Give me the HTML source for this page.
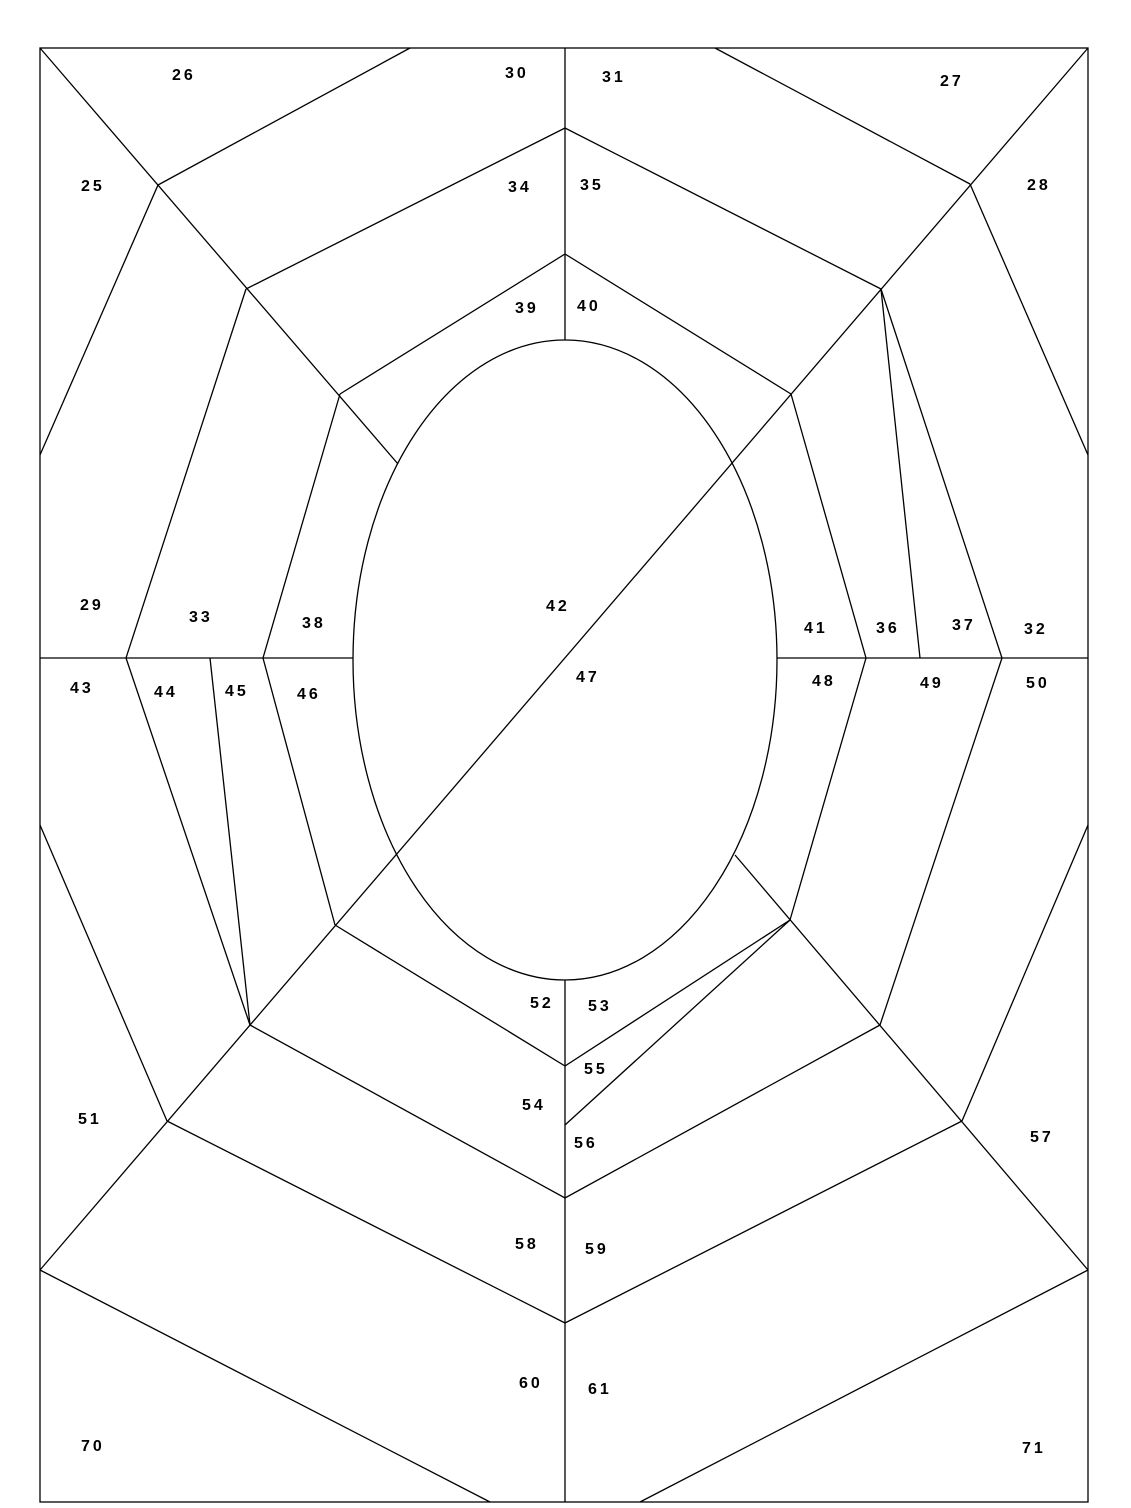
<!DOCTYPE html>
<html><head><meta charset="utf-8"><style>
html,body{margin:0;padding:0;background:#fff;}
svg{display:block}
text{font-family:"Liberation Sans",sans-serif;font-weight:bold;font-size:16px;letter-spacing:3px;fill:#000}
</style></head><body>
<svg width="1131" height="1508" viewBox="0 0 1131 1508" xmlns="http://www.w3.org/2000/svg">
<g stroke="#000" stroke-width="1.3" fill="none">
<rect x="40" y="48" width="1048" height="1454"/>
<ellipse cx="565" cy="660" rx="212" ry="320"/>
<line x1="565" y1="48" x2="565" y2="340"/>
<line x1="565" y1="980" x2="565" y2="1502"/>
<line x1="40" y1="658" x2="353" y2="658"/>
<line x1="777" y1="658" x2="1088" y2="658"/>
<line x1="1088" y1="48" x2="40" y2="1270"/>
<line x1="40" y1="48" x2="398" y2="464"/>
<line x1="735" y1="855" x2="1088" y2="1270"/>
<line x1="158" y1="185" x2="410" y2="48"/>
<line x1="970" y1="184" x2="715" y2="48"/>
<line x1="158" y1="185" x2="40" y2="455"/>
<line x1="970" y1="184" x2="1088" y2="455"/>
<polyline points="246,289 565,128 881,289"/>
<polyline points="340,394 565,254 791,394"/>
<line x1="881" y1="289" x2="1002" y2="658"/>
<line x1="881" y1="289" x2="920" y2="658"/>
<polyline points="340,394 263,658 335,925"/>
<polyline points="791,394 866,658 790,920"/>
<polyline points="246,289 126,658 250,1025"/>
<line x1="210" y1="658" x2="250" y2="1025"/>
<line x1="1002" y1="658" x2="880" y2="1025"/>
<line x1="40" y1="825" x2="167" y2="1121"/>
<line x1="1088" y1="825" x2="962" y2="1121"/>
<polyline points="335,925 565,1066 790,920"/>
<line x1="790" y1="920" x2="565" y2="1125"/>
<polyline points="250,1025 565,1198 880,1025"/>
<polyline points="167,1121 565,1323 962,1121"/>
<line x1="40" y1="1270" x2="490" y2="1502"/>
<line x1="1088" y1="1270" x2="640" y2="1502"/>
</g>
<text x="172" y="80">26</text>
<text x="505" y="78">30</text>
<text x="602" y="82">31</text>
<text x="940" y="86">27</text>
<text x="81" y="191">25</text>
<text x="508" y="192">34</text>
<text x="580" y="190">35</text>
<text x="1027" y="190">28</text>
<text x="515" y="313">39</text>
<text x="577" y="311">40</text>
<text x="80" y="610">29</text>
<text x="189" y="622">33</text>
<text x="302" y="628">38</text>
<text x="546" y="611">42</text>
<text x="804" y="633">41</text>
<text x="876" y="633">36</text>
<text x="952" y="630">37</text>
<text x="1024" y="634">32</text>
<text x="70" y="693">43</text>
<text x="154" y="697">44</text>
<text x="225" y="696">45</text>
<text x="297" y="699">46</text>
<text x="576" y="682">47</text>
<text x="812" y="686">48</text>
<text x="920" y="688">49</text>
<text x="1026" y="688">50</text>
<text x="530" y="1008">52</text>
<text x="588" y="1011">53</text>
<text x="584" y="1074">55</text>
<text x="522" y="1110">54</text>
<text x="574" y="1148">56</text>
<text x="78" y="1124">51</text>
<text x="1030" y="1142">57</text>
<text x="515" y="1249">58</text>
<text x="585" y="1254">59</text>
<text x="519" y="1388">60</text>
<text x="588" y="1394">61</text>
<text x="81" y="1451">70</text>
<text x="1022" y="1453">71</text>
</svg>
</body></html>
